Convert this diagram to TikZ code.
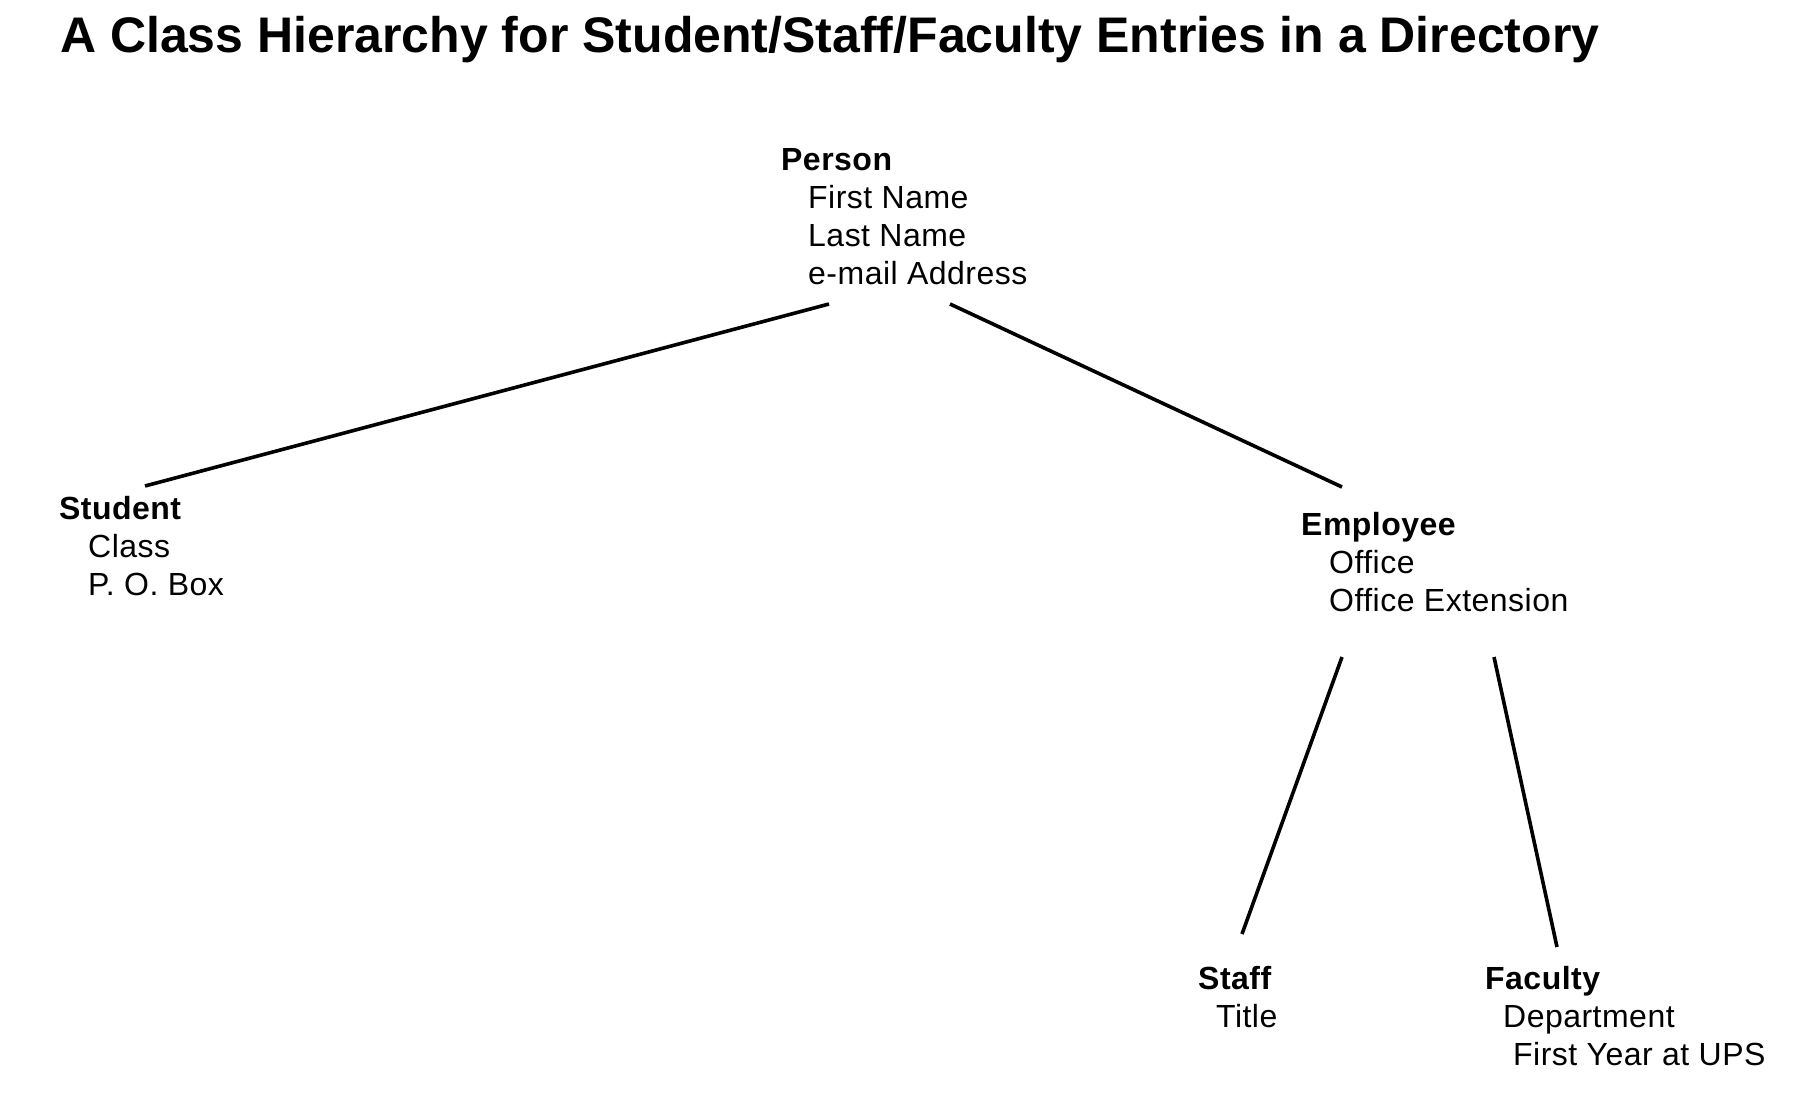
\documentclass[tikz,border=0pt]{standalone}
\usepackage{fontspec}
\setmainfont{Liberation Sans}
\newcommand{\clsbody}[2]{\vtop{\baselineskip=38pt\hbox{\bfseries #1}#2}}
\newcommand{\attr}[2]{\hbox{\hspace*{#1}#2}}
\begin{document}
\begin{tikzpicture}[x=1pt,y=-1pt,
  clsnode/.style={anchor=base west,inner sep=0pt,font=\fontsize{32}{38}\selectfont\addfontfeature{LetterSpace=1.5}},
  link/.style={line width=3.6pt,black}]
\useasboundingbox (0,0) rectangle (1797,1096);
\node[anchor=base west,inner sep=0pt,font=\fontsize{50}{55}\selectfont\bfseries] (title) at (60,52) {A Class Hierarchy for Student/Staff/Faculty Entries in a Directory};
\node[clsnode] (person) at (781,170) {\clsbody{Person}{\attr{27pt}{First Name}\attr{27pt}{Last Name}\attr{27pt}{e-mail Address}}};
\node[clsnode] (student) at (59,519) {\clsbody{Student}{\attr{29pt}{Class}\attr{29pt}{P. O. Box}}};
\node[clsnode] (employee) at (1301,535) {\clsbody{Employee}{\attr{28pt}{Office}\attr{28pt}{Office Extension}}};
\node[clsnode] (staff) at (1198,989) {\clsbody{Staff}{\attr{18pt}{Title}}};
\node[clsnode] (faculty) at (1485,989) {\clsbody{Faculty}{\attr{18pt}{Department}\attr{28pt}{First Year at UPS}}};
\coordinate (p1) at (829,304);
\coordinate (p2) at (950,304);
\coordinate (s1) at (145,486);
\coordinate (e1) at (1342,487);
\coordinate (e2) at (1342,657);
\coordinate (e3) at (1494,657);
\coordinate (st1) at (1242,934);
\coordinate (f1) at (1557,947);
\draw[link] (p1) -- (s1);
\draw[link] (p2) -- (e1);
\draw[link] (e2) -- (st1);
\draw[link] (e3) -- (f1);
\end{tikzpicture}
\end{document}
